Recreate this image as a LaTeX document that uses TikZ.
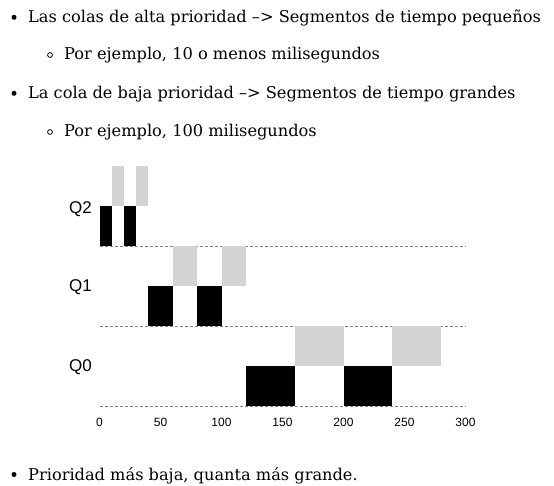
\documentclass[tikz,border=0pt]{standalone}
\usepackage{fontspec}
\setmainfont{DejaVu Serif}
\newfontfamily\lab{Liberation Sans}
\definecolor{lgray}{HTML}{D3D3D3}
\definecolor{dgray}{HTML}{7F7F7F}
\begin{document}
\begin{tikzpicture}[x=1pt,y=-1pt,
  txt/.style={anchor=base west, inner sep=0pt, font=\fontsize{16.2}{18}\selectfont},
  qlab/.style={anchor=center, inner sep=0pt, font=\lab\fontsize{17}{18}\selectfont},
  tick/.style={anchor=center, inner sep=0pt, font=\lab\fontsize{12}{13}\selectfont},
  baseline/.style={dgray, line width=0.8pt, dash pattern=on 3pt off 2pt},
  run/.style={fill=black},
  wait/.style={fill=lgray}]
\useasboundingbox (0,0) rectangle (554,486);
% bullets
\fill (14,17.3) circle (2.5);
\draw[line width=0.8pt] (50,55) circle (2.4);
\fill (14,93.3) circle (2.5);
\draw[line width=0.8pt] (50,132) circle (2.4);
\fill (14,474.5) circle (2.5);
\node[txt] (t1) at (28,22.7) {Las colas de alta prioridad --{}> Segmentos de tiempo pequeños};
\node[txt] (t2) at (64,60) {Por ejemplo, 10 o menos milisegundos};
\node[txt] (t3) at (28,98.3) {La cola de baja prioridad --{}> Segmentos de tiempo grandes};
\node[txt] (t4) at (64,137) {Por ejemplo, 100 milisegundos};
\node[txt] (t5) at (28,480) {Prioridad más baja, quanta más grande.};
% baselines
\foreach \y in {246.3,326.3,406.3} \draw[baseline] (99.5,\y) -- (465.5,\y);
% blocks: start/end/top
\foreach \s/\e/\t/\st in {0/10/206.3/run, 10/20/166/wait, 20/30/206.3/run, 30/40/166/wait,
  40/60/286.3/run, 60/80/246.3/wait, 80/100/286.3/run, 100/120/246.3/wait,
  120/160/366.3/run, 160/200/326.3/wait, 200/240/366.3/run, 240/280/326.3/wait}
  \path[\st] ({99.5+1.22*\s},\t) rectangle ({99.5+1.22*\e},\t+40);
% labels
\node[qlab] (q2) at (80.5,209) {Q2};
\node[qlab] (q1) at (80.5,287.5) {Q1};
\node[qlab] (q0) at (80.5,367) {Q0};
\foreach \v in {0,50,...,300}
  \node[tick] (x\v) at ({99.5+1.22*\v},422) {\v};
\end{tikzpicture}
\end{document}
